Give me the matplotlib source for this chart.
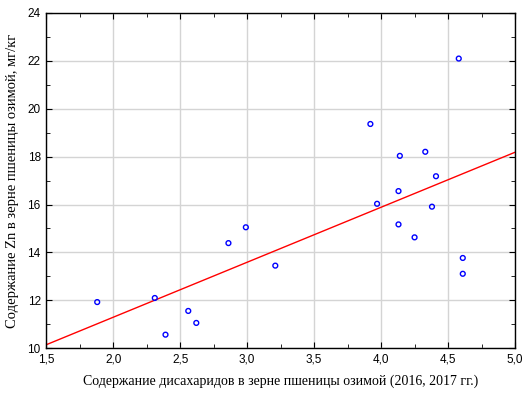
import matplotlib
matplotlib.use("Agg")
import matplotlib.pyplot as plt
from matplotlib.ticker import MultipleLocator, FuncFormatter
import numpy as np

# data
disaccharides = [1.88, 2.31, 2.39, 2.56, 2.62, 2.86, 2.99, 3.21, 3.92, 3.97,
                 4.13, 4.13, 4.14, 4.25, 4.33, 4.38, 4.41, 4.58, 4.61, 4.61]
zinc = [11.93, 12.10, 10.57, 11.56, 11.06, 14.39, 15.05, 13.45, 19.36, 16.03,
        16.56, 15.17, 18.03, 14.63, 18.20, 15.91, 17.18, 22.09, 13.77, 13.11]
line_intercept = 6.71
line_slope = 2.294

plt.rcParams['font.family'] = ['Liberation Sans', 'DejaVu Sans']

fig = plt.figure(figsize=(5.3, 3.99), dpi=100)
ax = fig.add_axes([0.0874, 0.127, 0.8843, 0.841])

ax.grid(True, color='#d4d4d4', linewidth=1.0)
ax.set_axisbelow(True)

xx = np.array([1.5, 5.0])
ax.plot(xx, line_intercept + line_slope * xx, color='#ff0000', linewidth=1.0, zorder=2)
ax.scatter(disaccharides, zinc, s=12, facecolors='none', edgecolors='#0000ff',
           linewidths=1.0, zorder=3)

ax.set_xlim(1.5, 5.0)
ax.set_ylim(10, 24)
ax.xaxis.set_major_locator(MultipleLocator(0.5))
ax.xaxis.set_minor_locator(MultipleLocator(0.25))
ax.yaxis.set_major_locator(MultipleLocator(2))
ax.yaxis.set_minor_locator(MultipleLocator(1))
ax.xaxis.set_major_formatter(FuncFormatter(lambda v, p: ('%.1f' % v).replace('.', ',')))
ax.tick_params(which='both', direction='in', top=True, right=True,
               labelsize=8.5, colors='black', pad=4)
ax.tick_params(which='major', length=4)
ax.tick_params(which='minor', length=3)
for s in ax.spines.values():
    s.set_linewidth(1.0)

ax.set_xlabel('Содержание дисахаридов в зерне пшеницы озимой (2016, 2017 гг.)',
              family='Liberation Serif', fontsize=10, labelpad=6)
ax.set_ylabel('Содержание Zn в зерне пшеницы озимой, мг/кг',
              family='Liberation Serif', fontsize=10.5, labelpad=6)

fig.savefig('out.png', dpi=100)
